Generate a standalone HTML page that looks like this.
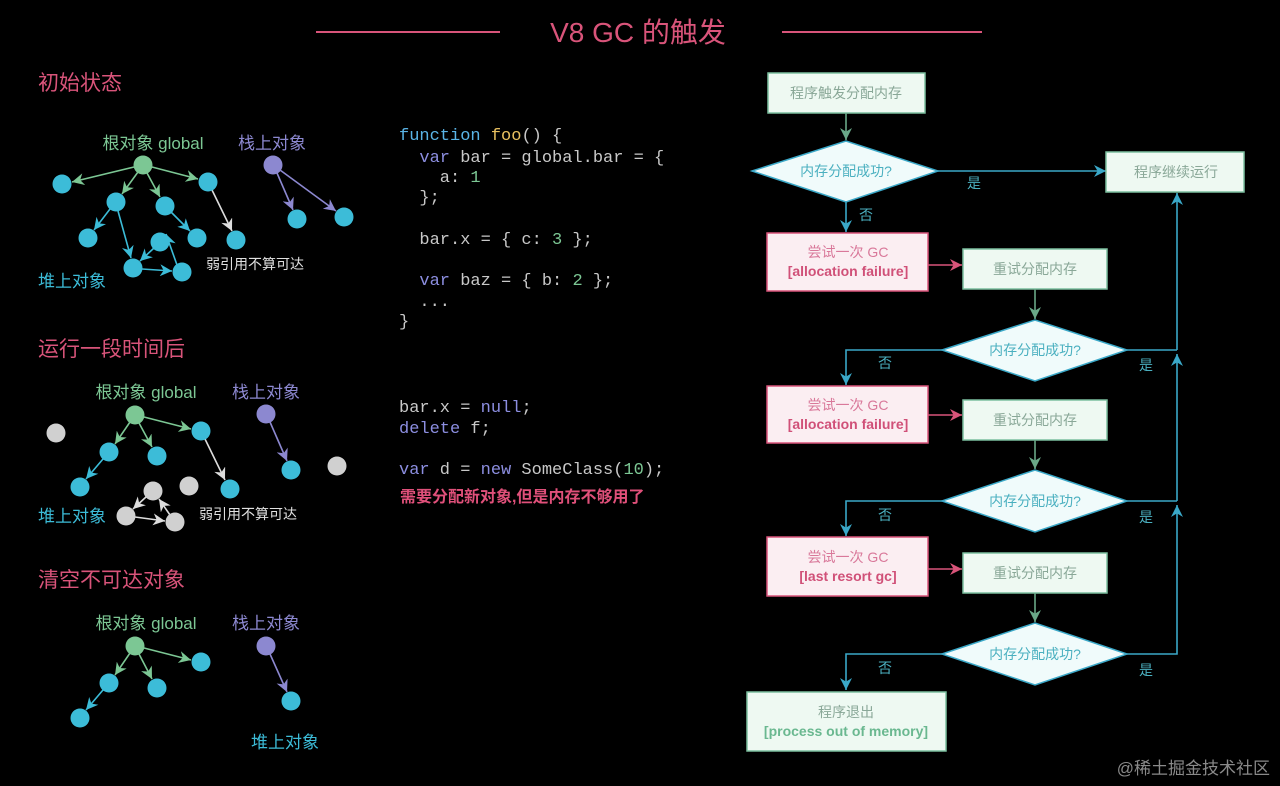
<!DOCTYPE html>
<html><head><meta charset="utf-8"><style>
html,body{margin:0;padding:0;background:#000;}
svg{display:block;}
text{font-family:"Liberation Sans","Noto Sans CJK SC",sans-serif;}
.code text{font-family:"Liberation Mono","Noto Sans CJK SC",monospace;font-size:17px;fill:#c8c8c8;white-space:pre;}
</style></head><body>
<svg width="1280" height="786" viewBox="0 0 1280 786" xmlns="http://www.w3.org/2000/svg">
<defs>
<marker id="mg" markerUnits="userSpaceOnUse" markerWidth="12" markerHeight="12" refX="10" refY="5" orient="auto" viewBox="0 0 10 10"><path d="M0,0L10,5L0,10L3,5z" fill="#7cc794"/></marker>
<marker id="mc" markerUnits="userSpaceOnUse" markerWidth="12" markerHeight="12" refX="10" refY="5" orient="auto" viewBox="0 0 10 10"><path d="M0,0L10,5L0,10L3,5z" fill="#3cbcd8"/></marker>
<marker id="mw" markerUnits="userSpaceOnUse" markerWidth="12" markerHeight="12" refX="10" refY="5" orient="auto" viewBox="0 0 10 10"><path d="M0,0L10,5L0,10L3,5z" fill="#dddddd"/></marker>
<marker id="mp" markerUnits="userSpaceOnUse" markerWidth="12" markerHeight="12" refX="10" refY="5" orient="auto" viewBox="0 0 10 10"><path d="M0,0L10,5L0,10L3,5z" fill="#8c88d0"/></marker>
<marker id="fk" markerUnits="userSpaceOnUse" markerWidth="12" markerHeight="12" refX="10" refY="5" orient="auto" viewBox="0 0 10 10"><path d="M0,0L10,5L0,10L3,5z" fill="#d9547a"/></marker>
<marker id="fc" markerUnits="userSpaceOnUse" markerWidth="12" markerHeight="12" refX="10" refY="5" orient="auto" viewBox="0 0 10 10"><path d="M0,0L10,5L0,10L3,5z" fill="#3aa8c8"/></marker>
<marker id="fg" markerUnits="userSpaceOnUse" markerWidth="12" markerHeight="12" refX="10" refY="5" orient="auto" viewBox="0 0 10 10"><path d="M0,0L10,5L0,10L3,5z" fill="#6aa888"/></marker>
</defs>

<line x1="316" y1="32" x2="500" y2="32" stroke="#d9547a" stroke-width="2"/>
<line x1="782" y1="32" x2="982" y2="32" stroke="#d9547a" stroke-width="2"/>
<text x="638" y="42" font-size="28" fill="#d9547a" text-anchor="middle">V8 GC 的触发</text>

<g font-size="21" fill="#d9547a">
<text x="38" y="90">初始状态</text>
<text x="38" y="356">运行一段时间后</text>
<text x="38" y="587">清空不可达对象</text>
</g>

<g stroke-width="1.6" fill="none">
<line x1="134" y1="167" x2="72" y2="182" stroke="#7cc794" marker-end="url(#mg)"/>
<line x1="138" y1="172" x2="122" y2="194" stroke="#7cc794" marker-end="url(#mg)"/>
<line x1="147" y1="173" x2="160" y2="197" stroke="#7cc794" marker-end="url(#mg)"/>
<line x1="152" y1="167" x2="198" y2="179" stroke="#7cc794" marker-end="url(#mg)"/>
<line x1="110" y1="209" x2="94" y2="230" stroke="#3cbcd8" marker-end="url(#mc)"/>
<line x1="118" y1="211" x2="131" y2="258" stroke="#3cbcd8" marker-end="url(#mc)"/>
<line x1="171" y1="212" x2="190" y2="231" stroke="#3cbcd8" marker-end="url(#mc)"/>
<line x1="212" y1="190" x2="232" y2="231" stroke="#dddddd" marker-end="url(#mw)"/>
<line x1="154" y1="248" x2="140" y2="261" stroke="#3cbcd8" marker-end="url(#mc)"/>
<line x1="142" y1="269" x2="172" y2="271" stroke="#3cbcd8" marker-end="url(#mc)"/>
<line x1="177" y1="265" x2="166" y2="234" stroke="#3cbcd8" marker-end="url(#mc)"/>
<line x1="277" y1="173" x2="293" y2="210" stroke="#8c88d0" marker-end="url(#mp)"/>
<line x1="280" y1="170" x2="336" y2="211" stroke="#8c88d0" marker-end="url(#mp)"/>
</g>
<g fill="#3cbcd8">
<circle cx="62" cy="184" r="9.5"/><circle cx="208" cy="182" r="9.5"/><circle cx="116" cy="202" r="9.5"/>
<circle cx="165" cy="206" r="9.5"/><circle cx="88" cy="238" r="9.5"/><circle cx="197" cy="238" r="9.5"/>
<circle cx="236" cy="240" r="9.5"/><circle cx="160" cy="242" r="9.5"/><circle cx="133" cy="268" r="9.5"/>
<circle cx="182" cy="272" r="9.5"/><circle cx="297" cy="219" r="9.5"/><circle cx="344" cy="217" r="9.5"/>
</g>
<circle cx="143" cy="165" r="9.5" fill="#7cc794"/>
<circle cx="273" cy="165" r="9.5" fill="#8c88d0"/>
<text x="153" y="149" font-size="17" fill="#7cc794" text-anchor="middle">根对象 global</text>
<text x="272" y="149" font-size="17" fill="#8c88d0" text-anchor="middle">栈上对象</text>
<text x="38" y="287" font-size="17" fill="#3cbcd8">堆上对象</text>
<text x="206" y="269" font-size="14" fill="#e0e0e0">弱引用不算可达</text>

<g stroke-width="1.6" fill="none">
<line x1="130" y1="422" x2="115" y2="444" stroke="#7cc794" marker-end="url(#mg)"/>
<line x1="139" y1="423" x2="152" y2="447" stroke="#7cc794" marker-end="url(#mg)"/>
<line x1="144" y1="417" x2="191" y2="429" stroke="#7cc794" marker-end="url(#mg)"/>
<line x1="103" y1="459" x2="86" y2="479" stroke="#3cbcd8" marker-end="url(#mc)"/>
<line x1="205" y1="439" x2="225" y2="480" stroke="#dddddd" marker-end="url(#mw)"/>
<line x1="146" y1="497" x2="133" y2="509" stroke="#dddddd" marker-end="url(#mw)"/>
<line x1="135" y1="517" x2="165" y2="521" stroke="#dddddd" marker-end="url(#mw)"/>
<line x1="170" y1="515" x2="159" y2="499" stroke="#dddddd" marker-end="url(#mw)"/>
<line x1="270" y1="422" x2="287" y2="461" stroke="#8c88d0" marker-end="url(#mp)"/>
</g>
<g fill="#3cbcd8">
<circle cx="201" cy="431" r="9.5"/><circle cx="109" cy="452" r="9.5"/><circle cx="157" cy="456" r="9.5"/>
<circle cx="80" cy="487" r="9.5"/><circle cx="230" cy="489" r="9.5"/><circle cx="291" cy="470" r="9.5"/>
</g>
<g fill="#d0d0d0">
<circle cx="56" cy="433" r="9.5"/><circle cx="153" cy="491" r="9.5"/><circle cx="189" cy="486" r="9.5"/>
<circle cx="126" cy="516" r="9.5"/><circle cx="175" cy="522" r="9.5"/><circle cx="337" cy="466" r="9.5"/>
</g>
<circle cx="135" cy="415" r="9.5" fill="#7cc794"/>
<circle cx="266" cy="414" r="9.5" fill="#8c88d0"/>
<text x="146" y="398" font-size="17" fill="#7cc794" text-anchor="middle">根对象 global</text>
<text x="266" y="398" font-size="17" fill="#8c88d0" text-anchor="middle">栈上对象</text>
<text x="38" y="522" font-size="17" fill="#3cbcd8">堆上对象</text>
<text x="199" y="519" font-size="14" fill="#e0e0e0">弱引用不算可达</text>

<g stroke-width="1.6" fill="none">
<line x1="130" y1="653" x2="115" y2="675" stroke="#7cc794" marker-end="url(#mg)"/>
<line x1="139" y1="654" x2="152" y2="679" stroke="#7cc794" marker-end="url(#mg)"/>
<line x1="144" y1="648" x2="191" y2="660" stroke="#7cc794" marker-end="url(#mg)"/>
<line x1="103" y1="690" x2="86" y2="710" stroke="#3cbcd8" marker-end="url(#mc)"/>
<line x1="270" y1="654" x2="287" y2="692" stroke="#8c88d0" marker-end="url(#mp)"/>
</g>
<g fill="#3cbcd8">
<circle cx="201" cy="662" r="9.5"/><circle cx="109" cy="683" r="9.5"/><circle cx="157" cy="688" r="9.5"/>
<circle cx="80" cy="718" r="9.5"/><circle cx="291" cy="701" r="9.5"/>
</g>
<circle cx="135" cy="646" r="9.5" fill="#7cc794"/>
<circle cx="266" cy="646" r="9.5" fill="#8c88d0"/>
<text x="146" y="629" font-size="17" fill="#7cc794" text-anchor="middle">根对象 global</text>
<text x="266" y="629" font-size="17" fill="#8c88d0" text-anchor="middle">栈上对象</text>
<text x="285" y="748" font-size="17" fill="#3cbcd8" text-anchor="middle">堆上对象</text>

<g class="code">
<text x="399" y="140"><tspan fill="#5ab4e6">function</tspan> <tspan fill="#e8c060">foo</tspan>() {</text>
<text x="399" y="162">  <tspan fill="#8c8ee0">var</tspan> bar = global.bar = {</text>
<text x="399" y="182">    a: <tspan fill="#7cc794">1</tspan></text>
<text x="399" y="202">  };</text>
<text x="399" y="244">  bar.x = { c: <tspan fill="#7cc794">3</tspan> };</text>
<text x="399" y="285">  <tspan fill="#8c8ee0">var</tspan> baz = { b: <tspan fill="#7cc794">2</tspan> };</text>
<text x="399" y="306">  ...</text>
<text x="399" y="326">}</text>
<text x="399" y="412">bar.x = <tspan fill="#8c8ee0">null</tspan>;</text>
<text x="399" y="433"><tspan fill="#8c8ee0">delete</tspan> f;</text>
<text x="399" y="474"><tspan fill="#8c8ee0">var</tspan> d = <tspan fill="#8c8ee0">new</tspan> SomeClass(<tspan fill="#7cc794">10</tspan>);</text>
</g>
<text x="400" y="502" font-size="16" font-weight="bold" fill="#e0507a">需要分配新对象,但是内存不够用了</text>

<g font-size="14" text-anchor="middle">
<rect x="768" y="73" width="157" height="40" fill="#eef9f2" stroke="#7cc0a0" stroke-width="1.5"/>
<text x="846" y="98" fill="#8aa898">程序触发分配内存</text>
<line x1="846" y1="113" x2="846" y2="140" stroke="#6aa888" stroke-width="1.6" marker-end="url(#fg)"/>

<polygon points="752,171 846,141 938,171 846,202" fill="#f0fbfb" stroke="#3aa8c8" stroke-width="1.5"/>
<text x="846" y="176" fill="#4bb0c0">内存分配成功?</text>
<line x1="938" y1="171" x2="1106" y2="171" stroke="#3aa8c8" stroke-width="1.6" marker-end="url(#fc)"/>
<text x="974" y="188" fill="#4bb0c0">是</text>
<rect x="1106" y="152" width="138" height="40" fill="#eef9f2" stroke="#7cc0a0" stroke-width="1.5"/>
<text x="1176" y="177" fill="#8aa898">程序继续运行</text>
<line x1="846" y1="202" x2="846" y2="232" stroke="#3aa8c8" stroke-width="1.6" marker-end="url(#fc)"/>
<text x="866" y="220" fill="#4bb0c0">否</text>

<rect x="767" y="233" width="161" height="58" fill="#fbeef2" stroke="#d9547a" stroke-width="1.5"/>
<text x="848" y="257" fill="#d9789a">尝试一次 GC</text>
<text x="848" y="276" fill="#d05078" font-weight="bold">[allocation failure]</text>
<line x1="928" y1="265" x2="962" y2="265" stroke="#d9547a" stroke-width="1.6" marker-end="url(#fk)"/>
<rect x="963" y="249" width="144" height="40" fill="#eef9f2" stroke="#7cc0a0" stroke-width="1.5"/>
<text x="1035" y="274" fill="#8aa898">重试分配内存</text>
<line x1="1035" y1="289" x2="1035" y2="319" stroke="#6aa888" stroke-width="1.6" marker-end="url(#fg)"/>

<polygon points="942,350 1035,320 1127,350 1035,381" fill="#f0fbfb" stroke="#3aa8c8" stroke-width="1.5"/>
<text x="1035" y="355" fill="#4bb0c0">内存分配成功?</text>
<polyline points="942,350 846,350 846,385" fill="none" stroke="#3aa8c8" stroke-width="1.6" marker-end="url(#fc)"/>
<text x="885" y="368" fill="#4bb0c0">否</text>
<line x1="1127" y1="350" x2="1177" y2="350" stroke="#3aa8c8" stroke-width="1.6"/>
<text x="1146" y="370" fill="#4bb0c0">是</text>

<rect x="767" y="386" width="161" height="57" fill="#fbeef2" stroke="#d9547a" stroke-width="1.5"/>
<text x="848" y="410" fill="#d9789a">尝试一次 GC</text>
<text x="848" y="429" fill="#d05078" font-weight="bold">[allocation failure]</text>
<line x1="928" y1="415" x2="962" y2="415" stroke="#d9547a" stroke-width="1.6" marker-end="url(#fk)"/>
<rect x="963" y="400" width="144" height="40" fill="#eef9f2" stroke="#7cc0a0" stroke-width="1.5"/>
<text x="1035" y="425" fill="#8aa898">重试分配内存</text>
<line x1="1035" y1="440" x2="1035" y2="469" stroke="#6aa888" stroke-width="1.6" marker-end="url(#fg)"/>

<polygon points="942,501 1035,470 1127,501 1035,532" fill="#f0fbfb" stroke="#3aa8c8" stroke-width="1.5"/>
<text x="1035" y="506" fill="#4bb0c0">内存分配成功?</text>
<polyline points="942,501 846,501 846,536" fill="none" stroke="#3aa8c8" stroke-width="1.6" marker-end="url(#fc)"/>
<text x="885" y="520" fill="#4bb0c0">否</text>
<line x1="1127" y1="501" x2="1177" y2="501" stroke="#3aa8c8" stroke-width="1.6"/>
<text x="1146" y="522" fill="#4bb0c0">是</text>

<rect x="767" y="537" width="161" height="59" fill="#fbeef2" stroke="#d9547a" stroke-width="1.5"/>
<text x="848" y="562" fill="#d9789a">尝试一次 GC</text>
<text x="848" y="581" fill="#d05078" font-weight="bold">[last resort gc]</text>
<line x1="928" y1="569" x2="962" y2="569" stroke="#d9547a" stroke-width="1.6" marker-end="url(#fk)"/>
<rect x="963" y="553" width="144" height="40" fill="#eef9f2" stroke="#7cc0a0" stroke-width="1.5"/>
<text x="1035" y="578" fill="#8aa898">重试分配内存</text>
<line x1="1035" y1="593" x2="1035" y2="622" stroke="#6aa888" stroke-width="1.6" marker-end="url(#fg)"/>

<polygon points="942,654 1035,623 1127,654 1035,685" fill="#f0fbfb" stroke="#3aa8c8" stroke-width="1.5"/>
<text x="1035" y="659" fill="#4bb0c0">内存分配成功?</text>
<polyline points="942,654 846,654 846,690" fill="none" stroke="#3aa8c8" stroke-width="1.6" marker-end="url(#fc)"/>
<text x="885" y="673" fill="#4bb0c0">否</text>
<polyline points="1127,654 1177,654 1177,505" fill="none" stroke="#3aa8c8" stroke-width="1.6" marker-end="url(#fc)"/>
<line x1="1177" y1="501" x2="1177" y2="354" stroke="#3aa8c8" stroke-width="1.6" marker-end="url(#fc)"/>
<line x1="1177" y1="350" x2="1177" y2="193" stroke="#3aa8c8" stroke-width="1.6" marker-end="url(#fc)"/>
<text x="1146" y="675" fill="#4bb0c0">是</text>

<rect x="747" y="692" width="199" height="59" fill="#eef9f2" stroke="#7cc0a0" stroke-width="1.5"/>
<text x="846" y="717" fill="#8aa898">程序退出</text>
<text x="846" y="736" fill="#6ab890" font-weight="bold">[process out of memory]</text>
</g>

<text x="1270" y="774" font-size="17" fill="#8a8a8a" text-anchor="end">@稀土掘金技术社区</text>
</svg>
</body></html>
